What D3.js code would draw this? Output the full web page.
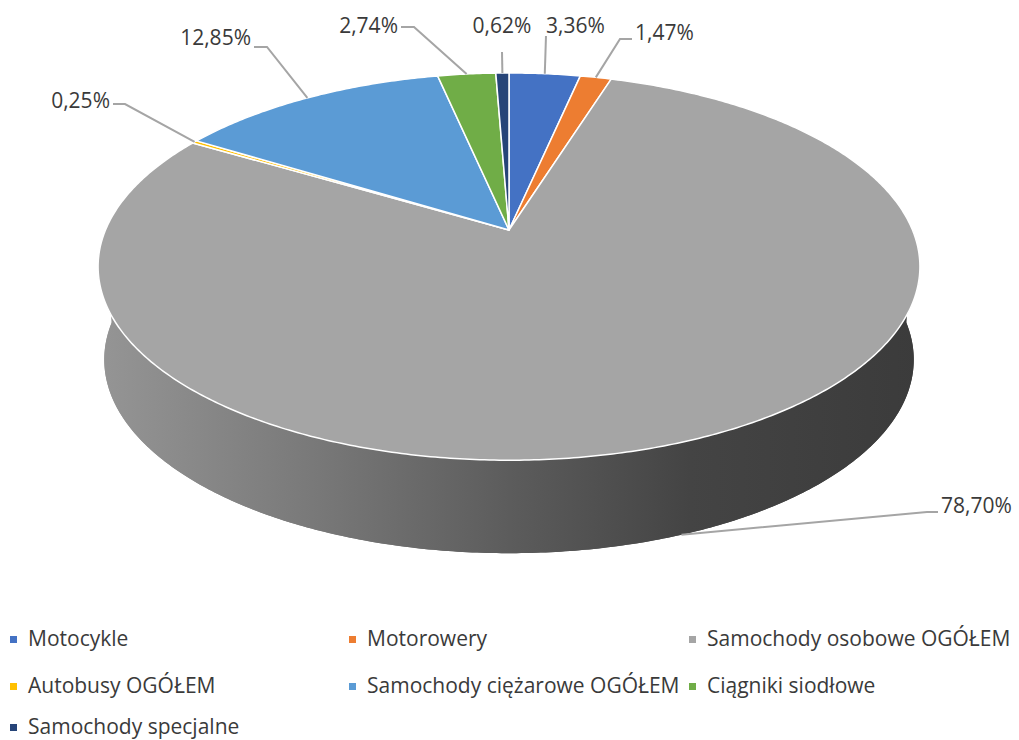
<!DOCTYPE html>
<html lang="pl">
<head>
  <meta charset="UTF-8">
  <title>Struktura pojazdów</title>
  <script src="https://d3js.org/d3.v7.min.js"></script>
</head>
<style>
  body {
    margin: 0;
    background: #fff;
  }
  svg {
    display: block;
  }
  text {
    font-family: "Open Sans", "Noto Sans", sans-serif;
    fill: #3a3a3a;
  }
</style>
<body>
<div id="chart"></div>
<script>
  // data
  var categories = ['Motocykle', 'Motorowery', 'Samochody osobowe OGÓŁEM', 'Autobusy OGÓŁEM',
    'Samochody ciężarowe OGÓŁEM', 'Ciągniki siodłowe', 'Samochody specjalne'];
  var shares = [3.36, 1.47, 78.70, 0.25, 12.85, 2.74, 0.62];
  var labels = ['3,36%', '1,47%', '78,70%', '0,25%', '12,85%', '2,74%', '0,62%'];
  var colors = ['#4472c4', '#ed7d31', '#a5a5a5', '#ffc000', '#5b9bd5', '#70ad47', '#264478'];

  // label layout: text position, anchor, leader elbow, whether leader hits the side wall
  var labelLayout = [
    {x: 546, y: 33, anchor: 'start', elbow: null, end: [546, 36], side: false},
    {x: 635, y: 40, anchor: 'start', elbow: [620, 39], end: [632, 39], side: false},
    {x: 941, y: 513, anchor: 'start', elbow: [927, 512], end: [938, 512], side: true},
    {x: 110, y: 108, anchor: 'end', elbow: [125, 104], end: [113, 104], side: false},
    {x: 251, y: 45, anchor: 'end', elbow: [267, 47], end: [254, 47], side: false},
    {x: 398, y: 33, anchor: 'end', elbow: [414, 27], end: [401, 27], side: false},
    {x: 502, y: 33, anchor: 'middle', elbow: null, end: [502, 52], side: false}
  ];

  var width = 1019, height = 740;
  var svg = d3.select('#chart').append('svg')
    .attr('width', width)
    .attr('height', height);

  // perspective disk: apex at (cx, cy), depth factor k
  var cx = 509, cy = 230, SX = 403.5, SY = 186.7, k = 0.189;
  var depth = 93, bottomScale = 0.985;

  function project(theta, r, dy, sxScale) {
    var X = r * Math.sin(theta), Z = -r * Math.cos(theta);
    var w = 1 - k * Z;
    return [cx + SX * sxScale * X / w, cy + dy + SY * Z / w];
  }

  function rimPoints(a0, a1, dy, sxScale) {
    var n = Math.max(2, Math.ceil((a1 - a0) / 0.01));
    return d3.range(n + 1).map(function (i) {
      return project(a0 + (a1 - a0) * i / n, 1, dy, sxScale);
    });
  }

  var line = d3.line();
  var pie = d3.pie().sort(null).value(function (d) { return d; });
  var arcs = pie(shares);

  // side wall gradient
  var grad = svg.append('defs').append('linearGradient')
    .attr('id', 'sideGrad')
    .attr('gradientUnits', 'userSpaceOnUse')
    .attr('x1', 100).attr('x2', 920).attr('y1', 0).attr('y2', 0);
  grad.append('stop').attr('offset', '0%').attr('stop-color', '#959595');
  grad.append('stop').attr('offset', '25%').attr('stop-color', '#7a7a7a');
  grad.append('stop').attr('offset', '50%').attr('stop-color', '#5c5c5c');
  grad.append('stop').attr('offset', '72%').attr('stop-color', '#444444');
  grad.append('stop').attr('offset', '100%').attr('stop-color', '#3b3b3b');

  // bottom disk + side wall
  svg.append('path')
    .attr('d', line(rimPoints(0, 2 * Math.PI, depth, bottomScale)) + 'Z')
    .attr('fill', 'url(#sideGrad)');
  var sideTop = rimPoints(Math.PI / 2, 3 * Math.PI / 2, 0, 1);
  var sideBottom = rimPoints(Math.PI / 2, 3 * Math.PI / 2, depth, bottomScale).reverse();
  svg.append('path')
    .attr('d', line(sideTop.concat(sideBottom)) + 'Z')
    .attr('fill', 'url(#sideGrad)');

  // top face slices
  svg.selectAll('path.slice')
    .data(arcs)
    .enter()
    .append('path')
    .attr('class', 'slice')
    .attr('d', function (d) {
      return line([[cx, cy]].concat(rimPoints(d.startAngle, d.endAngle, 0, 1))) + 'Z';
    })
    .attr('fill', function (d, i) { return colors[i]; })
    .attr('stroke', '#ffffff')
    .attr('stroke-width', 1.5)
    .attr('stroke-linejoin', 'round');

  // leader lines
  svg.selectAll('polyline.leader')
    .data(arcs)
    .enter()
    .append('polyline')
    .attr('class', 'leader')
    .attr('points', function (d, i) {
      var mid = (d.startAngle + d.endAngle) / 2;
      var L = labelLayout[i];
      var a = L.side ? project(mid, 1, depth, bottomScale) : project(mid, 1, 0, 1);
      var pts = [a];
      if (L.elbow) pts.push(L.elbow);
      pts.push(L.end);
      return pts.map(function (p) { return p.join(','); }).join(' ');
    })
    .attr('fill', 'none')
    .attr('stroke', '#a5a5a5')
    .attr('stroke-width', 2);

  // data labels
  svg.selectAll('text.label')
    .data(labels)
    .enter()
    .append('text')
    .attr('class', 'label')
    .attr('x', function (d, i) { return labelLayout[i].x; })
    .attr('y', function (d, i) { return labelLayout[i].y; })
    .attr('text-anchor', function (d, i) { return labelLayout[i].anchor; })
    .style('font-size', '21px')
    .text(function (d) { return d; });

  // legend, three columns
  var colX = [10, 349, 689];
  var rowY = [646, 693, 734];
  var legend = svg.selectAll('g.legend')
    .data(categories)
    .enter()
    .append('g')
    .attr('class', 'legend')
    .attr('transform', function (d, i) {
      return 'translate(' + colX[i % 3] + ',' + rowY[Math.floor(i / 3)] + ')';
    });
  legend.append('rect')
    .attr('x', 0).attr('y', -10)
    .attr('width', 7).attr('height', 7)
    .attr('fill', function (d, i) { return colors[i]; });
  legend.append('text')
    .attr('x', 18)
    .attr('y', 0)
    .style('font-size', '21px')
    .text(function (d) { return d; });
</script>
</body>
</html>
